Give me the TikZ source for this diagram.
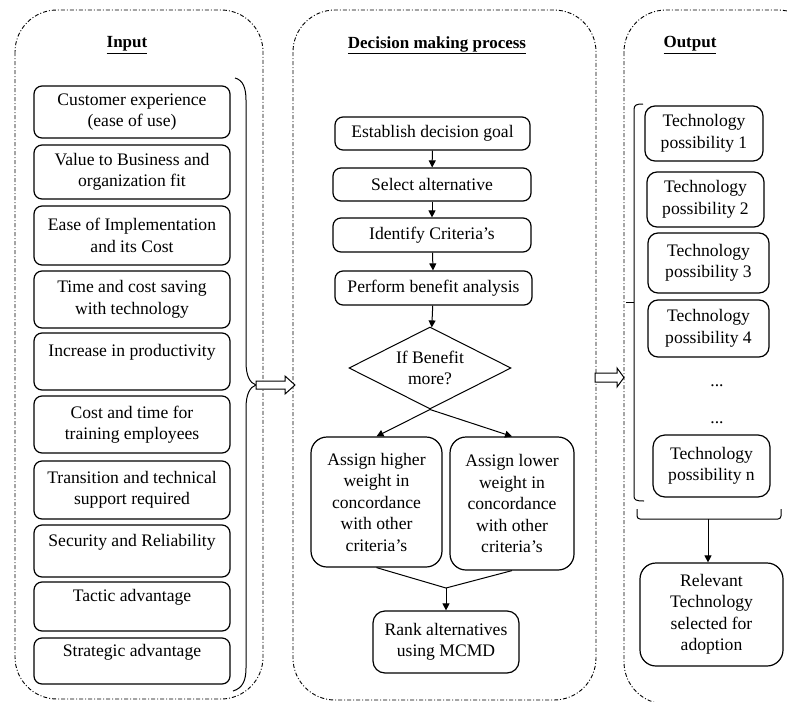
\documentclass[tikz,border=0pt]{standalone}
\usepackage{fontspec}
\setmainfont{Liberation Serif}
\usetikzlibrary{shapes.geometric,arrows.meta,calc}
\begin{document}
\begin{tikzpicture}[x=1pt,y=-1pt,
  every node/.style={font=\fontsize{17.6}{21.5}\selectfont},
  box/.style={draw, line width=1.2pt, rounded corners=8pt, align=center, inner sep=0pt},
  bigbox/.style={box, rounded corners=16pt},
  panel/.style={draw, line width=0.9pt, rounded corners=42pt, dash pattern=on 4pt off 2pt on 1pt off 2pt},
  flow/.style={-{Triangle[length=7pt,width=7pt]}, line width=1pt},
  ttl/.style={font=\fontsize{17}{20}\selectfont\bfseries},
  hollow/.style={draw, line width=1pt, fill=white},
  brc/.style={draw, line width=1pt}
]
\useasboundingbox (0,0) rectangle (788,702);
\begin{scope}
  \clip (0,0) rectangle (788,702);
  \draw[panel] (15,10) rectangle (263,699);
  \draw[panel] (293,10) rectangle (596,700);
  \draw[panel] (624,10) rectangle (820,704);
\end{scope}

% titles
\node[ttl] (tin) at (127,45) {\underline{Input}};
\node[ttl] (tdm) at (437,45) {\underline{Decision making process}};
\node[ttl] (tout) at (690,45) {\underline{Output}};

% input boxes
\node[box, minimum width=196, minimum height=52] (i1) at (132,112) {Customer experience\\(ease of use)};
\node[box, minimum width=196, minimum height=54] (i2) at (132,172) {Value to Business and\\organization fit};
\node[box, minimum width=196, minimum height=59] (i3) at (132,235.5) {Ease of Implementation\\and its Cost};
\node[box, minimum width=196, minimum height=57] (i4) at (132,299.5) {Time and cost saving\\with technology};
\node[box, minimum width=196, minimum height=57] (i5) at (132,361.5) {Increase in productivity\\\mbox{}};
\node[box, minimum width=196, minimum height=57] (i6) at (132,424.5) {Cost and time for\\training employees};
\node[box, minimum width=196, minimum height=58] (i7) at (132,490) {Transition and technical\\support required};
\node[box, minimum width=196, minimum height=52] (i8) at (132,551) {Security and Reliability\\\mbox{}};
\node[box, minimum width=196, minimum height=49] (i9) at (132,606.5) {Tactic advantage\\\mbox{}};
\node[box, minimum width=196, minimum height=46] (i10) at (132,661) {Strategic advantage\\\mbox{}};

% input brace
\draw[brc] (235,78) .. controls (243,80) and (246,88) .. (246,100) -- (246,362)
  .. controls (246,376) and (250,383) .. (256,385)
  .. controls (250,387) and (246,394) .. (246,408) -- (246,668)
  .. controls (246,680) and (243,688) .. (233,691);

% hollow arrows
\draw[hollow] (256,381) -- (285,381) -- (285,376) -- (295,385) -- (285,394) -- (285,389) -- (256,389) -- cycle;
\draw[hollow] (595,373) -- (617,373) -- (617,368) -- (624,377.5) -- (617,387) -- (617,382) -- (595,382) -- cycle;

% decision process
\node[box, minimum width=195, minimum height=33] (e) at (432.5,133.5) {Establish decision goal};
\node[box, minimum width=198, minimum height=33] (s) at (432,184.5) {Select alternative};
\node[box, minimum width=198, minimum height=34] (c) at (432,235) {Identify Criteria's};
\node[box, minimum width=197, minimum height=34] (p) at (433.5,288) {Perform benefit analysis};
\node[draw, diamond, shape aspect=2, line width=1pt, minimum width=162, minimum height=82, inner sep=0pt, align=center] (dia) at (430,368) {If Benefit\\more?};
\node[bigbox, minimum width=131, minimum height=130] (l) at (376.5,502) {Assign higher\\weight in\\concordance\\with other\\criteria's};
\node[bigbox, minimum width=124, minimum height=133] (r) at (512,503.5) {Assign lower\\weight in\\concordance\\with other\\criteria's};
\node[box, rounded corners=12pt, minimum width=146, minimum height=62] (rk) at (446,642) {Rank alternatives\\using MCMD};
\coordinate (m) at (446,588);

\draw[flow] (e) -- (s);
\draw[flow] (s) -- (c);
\draw[flow] (c) -- (p);
\draw[flow] (p) -- (dia);
\draw[flow] (dia.south) -- (l.north);
\draw[flow] (dia.south) -- (r.north);
\draw[line width=1pt] (l.south) -- (m) -- (r.south);
\draw[flow] (m) -- (rk.north);

% output
\node[box, rounded corners=10pt, minimum width=118, minimum height=55] (t1) at (704,133.5) {Technology\\possibility 1};
\node[box, rounded corners=10pt, minimum width=117, minimum height=55] (t2) at (705.5,199.5) {Technology\\possibility 2};
\node[box, rounded corners=10pt, minimum width=121, minimum height=60] (t3) at (708.5,263) {Technology\\possibility 3};
\node[box, rounded corners=10pt, minimum width=121, minimum height=57] (t4) at (708.5,328.5) {Technology\\possibility 4};
\node (d1) at (717,386) {...};
\node (d2) at (717,423) {...};
\node[box, rounded corners=12pt, minimum width=117, minimum height=62] (tn) at (711.5,466) {Technology\\possibility n};
\node[bigbox, minimum width=143, minimum height=103] (rel) at (711.5,614.5) {Relevant\\Technology\\selected for\\adoption};

% output bracket
\draw[brc] (643,104) .. controls (636,104) and (634,105) .. (634,110) -- (634,496)
  .. controls (634,500) and (636,501) .. (644,501);
\draw[brc] (634,302) -- (626,302);
\draw[brc, rounded corners=3pt] (637,509) -- (637,519) -- (781,519) -- (781,509);
\coordinate (bb) at (708,519);
\draw[flow] (bb) -- (bb |- rel.north);
\end{tikzpicture}
\end{document}
